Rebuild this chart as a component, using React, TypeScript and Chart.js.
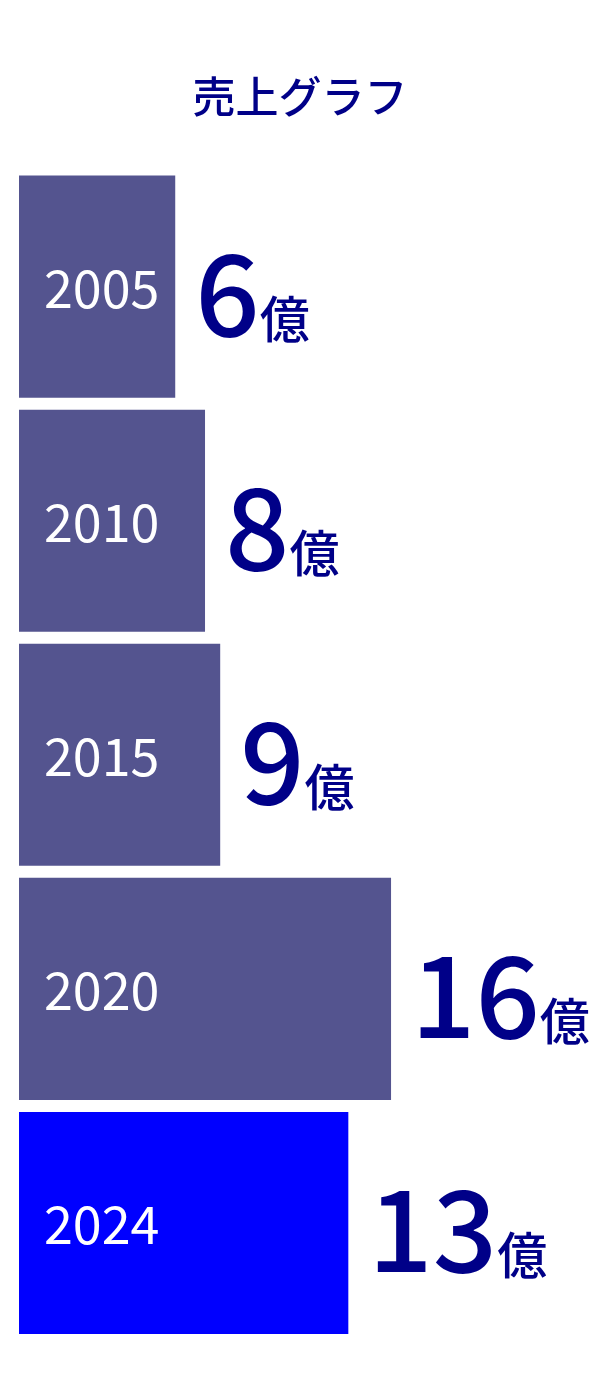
import { useEffect, useRef } from 'react';
import { Chart, registerables, Plugin } from 'chart.js';

Chart.register(...registerables);

// 年ごとの売上（億円）とバーの長さ（画面から読んだ値）
const years = ['2005', '2010', '2015', '2020', '2024'];
const salesOku = [6, 8, 9, 16, 13];
const barLengths = [27.8, 33.1, 35.8, 66.2, 58.6];
const barColors = ['#54548f', '#54548f', '#54548f', '#54548f', '#0000ff'];

const FONT = '"Noto Sans CJK JP", "Noto Sans", sans-serif';
const NAVY = '#000088';

const labelPlugin: Plugin<'bar'> = {
  id: 'barLabels',
  afterDatasetsDraw(chart) {
    const { ctx } = chart;
    const meta = chart.getDatasetMeta(0);
    ctx.save();
    ctx.textAlign = 'left';
    ctx.textBaseline = 'alphabetic';
    meta.data.forEach((el: any, i) => {
      const { x, y, base } = el.getProps(['x', 'y', 'base'], true);
      // 年（バーの中）
      ctx.fillStyle = '#ffffff';
      ctx.font = `400 52px ${FONT}`;
      ctx.fillText(String(chart.data.labels?.[i] ?? ''), base + 25, y + 21);
      // 金額
      const num = String(salesOku[i]);
      ctx.fillStyle = NAVY;
      ctx.font = `500 113px ${FONT}`;
      const nx = x + 20;
      ctx.fillText(num, nx, y + 49);
      const w = ctx.measureText(num).width;
      ctx.font = `500 50px ${FONT}`;
      ctx.fillText('億', nx + w, y + 51);
    });
    ctx.restore();
  },
};

export default function App() {
  const canvasRef = useRef<HTMLCanvasElement>(null);
  const chartRef = useRef<Chart | null>(null);

  useEffect(() => {
    document.body.style.margin = '0';
    if (!canvasRef.current) return;
    if (chartRef.current) chartRef.current.destroy();

    chartRef.current = new Chart(canvasRef.current, {
      type: 'bar',
      data: {
        labels: years,
        datasets: [
          {
            data: barLengths,
            backgroundColor: barColors,
            borderWidth: 0,
            categoryPercentage: 1,
            barPercentage: 0.949,
          },
        ],
      },
      options: {
        indexAxis: 'y',
        animation: false,
        responsive: true,
        maintainAspectRatio: false,
        layout: { padding: { left: 19, right: 19, top: 0, bottom: 39 } },
        plugins: {
          legend: { display: false },
          tooltip: { enabled: false },
          title: {
            display: true,
            text: '売上グラフ',
            color: NAVY,
            font: { family: FONT, size: 43, weight: 500, lineHeight: 1.2 },
            padding: { top: 71, bottom: 47 },
          },
        },
        scales: {
          x: { display: false, min: 0, max: 100 },
          y: { display: false },
        },
      },
      plugins: [labelPlugin],
    });

    return () => {
      if (chartRef.current) chartRef.current.destroy();
      chartRef.current = null;
    };
  }, []);

  return (
    <div style={{ width: 600, height: 1379, background: '#ffffff' }}>
      <canvas ref={canvasRef} />
    </div>
  );
}
